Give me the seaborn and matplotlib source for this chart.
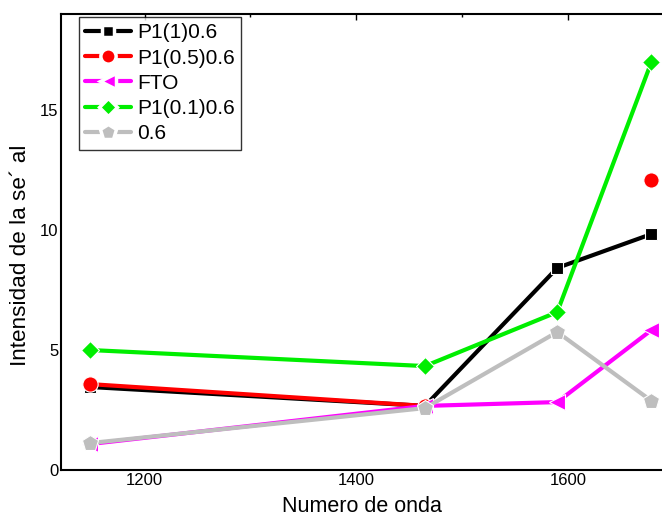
import numpy as np
import pandas as pd
import matplotlib
matplotlib.use("Agg")
import matplotlib.pyplot as plt
import seaborn as sns

# Data
wavenumber = [1148, 1465, 1590, 1679]
p1_1 = [3.46, 2.67, 8.42, 9.83]
p1_05 = [3.58, 2.67, np.nan, 12.08]
fto = [1.08, 2.67, 2.83, 5.83]
p1_01 = [5.0, 4.33, 6.58, 17.0]
s06 = [1.12, 2.58, 5.75, 2.88]

series_names = ["P1(1)0.6", "P1(0.5)0.6", "FTO", "P1(0.1)0.6", "0.6"]
series_vals = [p1_1, p1_05, fto, p1_01, s06]
colors = ["#000000", "#ff0000", "#ff00ff", "#00ee00", "#bebebe"]
markers = ["s", "o", "<", "D", "p"]
msizes = [9, 11, 11, 9, 12]

sns.set_style("white")
plt.rcParams["font.family"] = ["Liberation Sans", "DejaVu Sans"]
plt.rcParams["text.color"] = "black"
plt.rcParams["axes.labelcolor"] = "black"
plt.rcParams["xtick.color"] = "black"
plt.rcParams["ytick.color"] = "black"

fig = plt.figure(figsize=(6.62, 5.18), dpi=100)
ax = fig.add_axes([61/662, 48/518, 601/662, 456/518])

handles = []
for name, vals, c, m, ms in zip(series_names, series_vals, colors, markers, msizes):
    df = pd.DataFrame({"x": wavenumber, "y": vals})
    seg_id = df["y"].isna().cumsum()
    valid = df[df["y"].notna()].copy()
    valid["seg"] = seg_id[df["y"].notna()]
    for _, seg in valid.groupby("seg"):
        sns.lineplot(data=seg, x="x", y="y", ax=ax, color=c, marker=m,
                     markersize=ms, linewidth=3, markeredgecolor="white",
                     markeredgewidth=0.8, estimator=None, sort=False)
    handles.append(plt.Line2D([], [], color=c, marker=m, markersize=ms,
                              linewidth=3, markeredgecolor="white",
                              markeredgewidth=2.5, label=name))

ax.set_xlim(1121, 1689)
ax.set_ylim(0, 19)
ax.set_xticks([1200, 1400, 1600])
ax.set_xticks([1300, 1500], minor=True)
ax.set_yticks([0, 5, 10, 15])
ax.set_yticks([2.5, 7.5, 12.5, 17.5], minor=True)
ax.tick_params(axis="both", which="both", direction="in", top=True,
               labelsize=12, pad=2, colors="black")
ax.tick_params(which="major", length=4, width=1)
ax.tick_params(which="minor", length=2.5, width=1)
for s in ["left", "bottom", "top"]:
    ax.spines[s].set_color("black")
    ax.spines[s].set_linewidth(1.5)
ax.spines["right"].set_visible(False)

ax.set_xlabel("Numero de onda", fontsize=15.5, labelpad=6, color="black")
ax.set_ylabel("Intensidad de la se\u00b4 al", fontsize=16.2, color="black")
ax.yaxis.set_label_coords(-0.05, 0.47)

leg = ax.legend(handles=handles, loc="upper left",
                bbox_to_anchor=(18/601, 1 - 3/456), fontsize=15,
                frameon=True, fancybox=False, edgecolor="black",
                handlelength=2.2, handletextpad=0.3, labelspacing=0.3,
                borderpad=0.3, borderaxespad=0)
leg.get_frame().set_linewidth(1)
for t in leg.get_texts():
    t.set_color("black")

fig.savefig("out.png", dpi=100)
